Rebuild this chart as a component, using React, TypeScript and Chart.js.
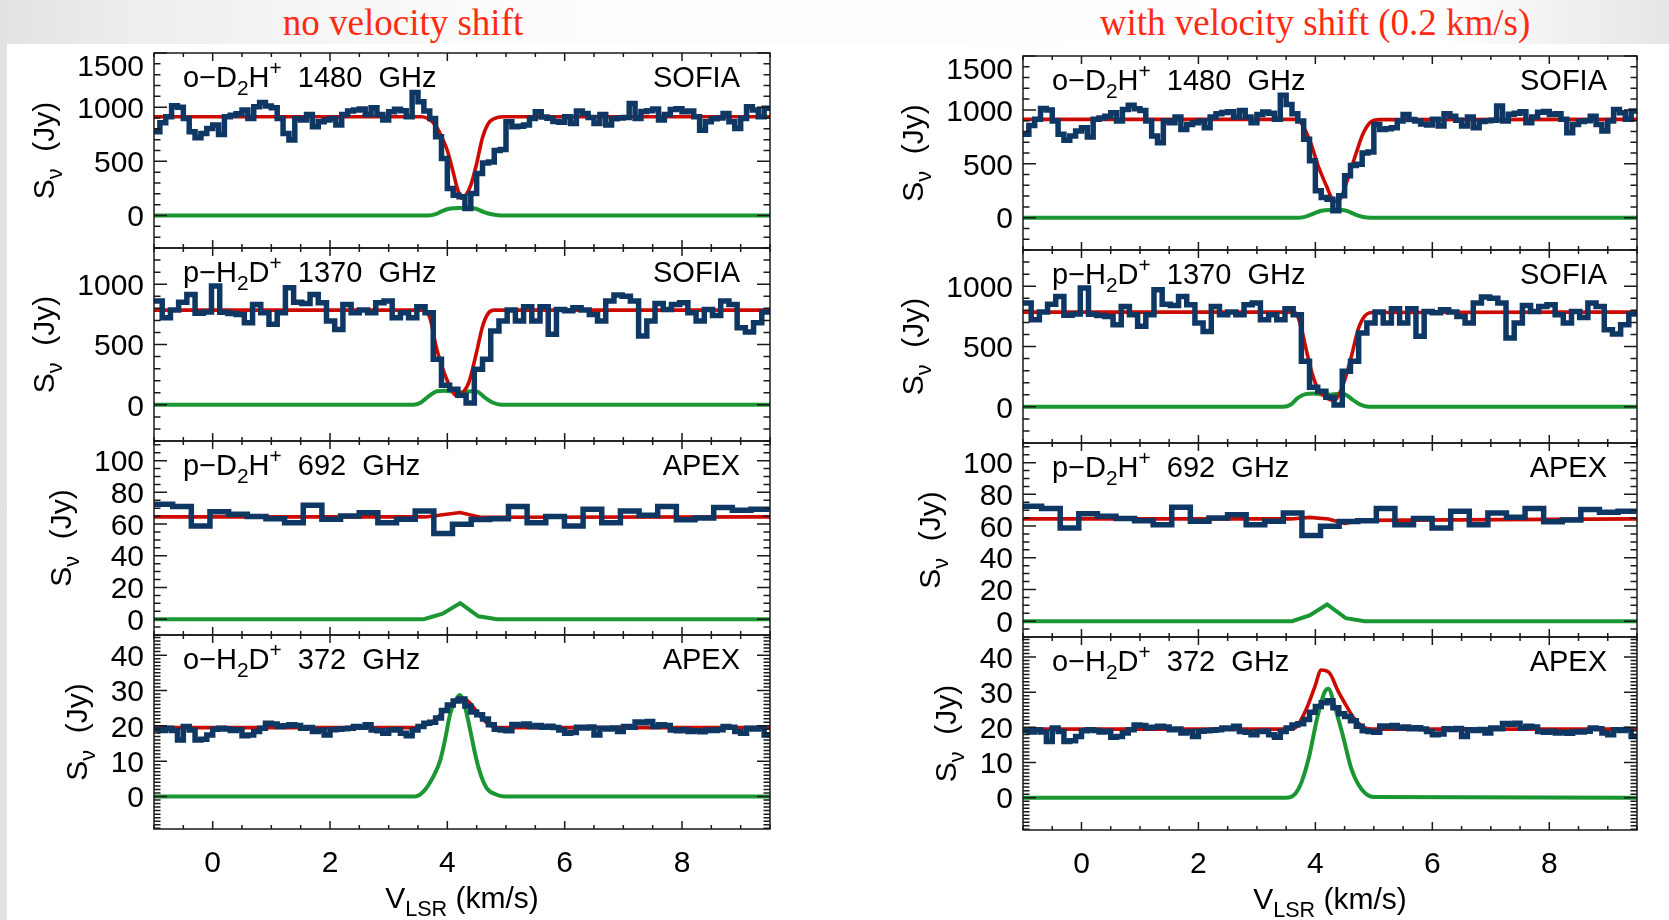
import { useEffect, useRef } from 'react';
import { Chart, registerables } from 'chart.js';

Chart.register(...registerables);

const SANS = '"Liberation Sans", Arial, Helvetica, sans-serif';
const SERIF = '"Liberation Serif", "Times New Roman", serif';

const BLUE = '#0f3764';
const RED = '#cc0a00';
const GREEN = '#1a9632';

// velocity axis (km/s)
const V_MIN = -1;
const V_MAX = 9.5;
const X_MAJOR = [0, 2, 4, 6, 8];
const X_MINOR_STEP = 0.5;

// channel widths (km/s) of the observed spectra
const BIN_D2H_1480 = 0.1;
const BIN_H2D_1370 = 0.14;
const BIN_D2H_692 = 0.318;
const BIN_H2D_372 = 0.1;

// observed spectra (Jy), channel by channel starting at V_MIN
const obsD2H1480 = [
  773, 856, 912, 1013, 1000, 896, 773, 718, 758, 804,
  835, 748, 912, 925, 940, 973, 896, 1004, 1044, 1010,
  995, 896, 758, 696, 896, 881, 933, 819, 865, 881,
  896, 835, 933, 964, 975, 982, 933, 995, 933, 881,
  958, 980, 968, 912, 1136, 1050, 964, 896, 727, 527,
  249, 188, 172, 65, 203, 388, 485, 495, 600, 610,
  865, 819, 825, 835, 896, 958, 910, 898, 868, 860,
  912, 850, 964, 942, 905, 850, 933, 835, 893, 900,
  905, 1035, 896, 960, 968, 982, 881, 933, 978, 986,
  958, 964, 912, 788, 865, 893, 900, 942, 865, 804,
  896, 1004, 973, 912, 989,
];
const obsH2D1370 = [
  860, 722, 785, 851, 915, 760, 770, 984, 768, 758,
  749, 680, 832, 763, 667, 763, 970, 850, 840, 915,
  846, 694, 625, 832, 763, 785, 763, 846, 860, 722,
  763, 722, 813, 763, 377, 163, 129, 80, 14, 295,
  377, 612, 694, 785, 694, 813, 694, 813, 584, 790,
  780, 804, 785, 749, 694, 860, 910, 900, 860, 570,
  694, 840, 790, 832, 846, 763, 694, 790, 741, 860,
  832, 639, 603, 680, 769,
];
const obsD2H692 = [
  72.5, 71.0, 58.8, 67.7, 66.2, 64.7, 63.4, 60.9, 71.9, 63.0,
  65.1, 67.2, 60.9, 63.0, 68.3, 54.1, 59.8, 62.9, 63.4, 71.0,
  60.9, 64.7, 58.8, 69.4, 60.9, 68.3, 65.5, 71.0, 62.7, 63.8,
  70.4, 68.7, 69.4,
];
const obsH2D372 = [
  19.0, 18.7, 19.3, 18.7, 16.0, 19.8, 18.8, 16.0, 16.2, 17.4,
  19.0, 19.3, 19.1, 18.7, 18.9, 17.2, 17.4, 18.4, 19.3, 20.7,
  20.5, 19.8, 20.0, 20.3, 20.1, 19.3, 19.5, 18.4, 18.8, 17.4,
  18.9, 19.0, 19.2, 19.3, 19.8, 19.6, 20.3, 18.8, 18.6, 17.9,
  18.8, 18.9, 17.9, 17.2, 18.8, 19.8, 20.7, 21.0, 22.2, 24.3,
  25.9, 27.0, 27.6, 25.6, 23.9, 23.1, 21.9, 20.3, 19.0, 18.8,
  18.6, 20.4, 20.2, 20.5, 19.8, 20.1, 19.6, 19.9, 19.5, 18.8,
  17.9, 18.1, 19.6, 19.4, 19.7, 17.4, 19.3, 19.1, 19.4, 18.4,
  19.8, 19.6, 21.1, 20.9, 21.2, 19.8, 20.3, 20.1, 18.8, 18.6,
  18.9, 18.4, 18.6, 18.3, 18.8, 18.7, 18.9, 19.8, 19.6, 18.4,
  17.9, 19.3, 19.1, 19.4, 17.4,
];

// model spectra without velocity shift: total (red) and line component (green)
const fitV_D2H1480 = [-1, 3.55, 3.65, 3.8, 3.9, 4.0, 4.1, 4.17, 4.24, 4.32, 4.4, 4.5, 4.6, 4.7, 4.8, 4.95, 9.5];
const fitS_D2H1480 = [912, 912, 900, 830, 730, 600, 400, 250, 160, 190, 280, 480, 720, 850, 895, 912, 912];
const lineV_D2H1480 = [-1, 3.68, 3.8, 3.9, 4.05, 4.2, 4.4, 4.5, 4.62, 4.78, 4.92, 9.5];
const lineS_D2H1480 = [0, 0, 12, 38, 64, 70, 70, 60, 32, 9, 0, 0];

const fitV_H2D1370 = [-1, 3.55, 3.65, 3.72, 3.8, 3.9, 4.0, 4.1, 4.18, 4.28, 4.37, 4.5, 4.6, 4.7, 4.8, 9.5];
const fitS_H2D1370 = [785, 785, 770, 690, 500, 330, 200, 100, 70, 110, 190, 440, 650, 760, 785, 785];
const lineV_H2D1370 = [-1, 3.42, 3.55, 3.69, 3.82, 3.95, 4.1, 4.25, 4.4, 4.5, 4.64, 4.77, 4.92, 9.5];
const lineS_H2D1370 = [0, 0, 19, 74, 112, 116, 110, 105, 112, 110, 60, 19, 0, 0];

const fitV_D2H692 = [-1, 3.62, 4.22, 4.56, 9.5];
const fitS_D2H692 = [64.5, 64.5, 67.3, 64.3, 64.5];
const lineV_D2H692 = [-1, 3.6, 3.92, 4.22, 4.53, 4.85, 9.5];
const lineS_D2H692 = [0, 0, 3.5, 10.1, 1.8, 0, 0];

const fitV_H2D372 = [-1, 3.45, 3.6, 3.76, 3.88, 4.02, 4.16, 4.26, 4.39, 4.5, 4.61, 4.73, 4.86, 9.5];
const fitS_H2D372 = [19.5, 19.5, 20.0, 21.3, 23.1, 25.4, 27.3, 27.8, 26.4, 24.0, 21.8, 20.2, 19.5, 19.5];
const lineV_H2D372 = [-1, 3.45, 3.6, 3.76, 3.88, 3.96, 4.05, 4.13, 4.21, 4.3, 4.39, 4.47, 4.56, 4.67, 4.84, 5.0, 9.5];
const lineS_H2D372 = [0, 0, 1.5, 5.6, 10.3, 16.0, 23.5, 26.8, 28.7, 25.4, 18.8, 12.3, 6.6, 2.4, 0.5, 0, 0];

// model spectra with a 0.2 km/s velocity shift
const shiftFitV_D2H1480 = [-1, 3.7, 3.8, 3.92, 4.05, 4.19, 4.3, 4.38, 4.45, 4.55, 4.68, 4.82, 4.96, 5.1, 9.5];
const shiftFitS_D2H1480 = [912, 912, 840, 693, 477, 293, 165, 150, 200, 354, 570, 785, 893, 910, 912];
const shiftLineV_D2H1480 = [-1, 3.72, 3.85, 3.97, 4.1, 4.25, 4.45, 4.55, 4.67, 4.8, 4.95, 9.5];
const shiftLineS_D2H1480 = [0, 0, 12, 38, 64, 70, 70, 60, 32, 9, 0, 0];

const shiftFitV_H2D1370 = [-1, 3.62, 3.68, 3.76, 3.85, 3.95, 4.05, 4.19, 4.33, 4.43, 4.53, 4.63, 4.73, 4.84, 4.97, 9.5];
const shiftFitS_H2D1370 = [785, 785, 770, 653, 460, 267, 143, 74, 55, 129, 267, 446, 639, 749, 782, 785];
const shiftLineV_H2D1370 = [-1, 3.45, 3.58, 3.7, 3.83, 3.97, 4.1, 4.25, 4.4, 4.5, 4.64, 4.77, 4.92, 9.5];
const shiftLineS_H2D1370 = [0, 0, 19, 74, 105, 110, 104, 100, 108, 104, 58, 18, 0, 0];

const shiftFitV_D2H692 = [-1, 3.58, 3.9, 4.22, 4.5, 4.82, 9.5];
const shiftFitS_D2H692 = [64.5, 64.5, 65.5, 64.5, 61.6, 63.6, 64.5];
const shiftLineV_D2H692 = [-1, 3.6, 3.9, 4.2, 4.52, 4.84, 9.5];
const shiftLineS_D2H692 = [0, 0, 3.6, 10.5, 1.9, 0, 0];

const shiftFitV_H2D372 = [-1, 3.55, 3.66, 3.84, 3.99, 4.1, 4.25, 4.38, 4.52, 4.66, 4.83, 5.0, 9.5];
const shiftFitS_H2D372 = [19.5, 19.5, 19.9, 25.0, 31.5, 36.3, 35.3, 30.6, 26.4, 22.6, 20.0, 19.5, 19.5];
const shiftLineV_H2D372 = [-1, 3.5, 3.65, 3.77, 3.9, 4.03, 4.16, 4.22, 4.34, 4.48, 4.61, 4.79, 5.0, 9.5];
const shiftLineS_H2D372 = [0, 0, 1, 4.7, 12.2, 22.6, 30.1, 31, 25.4, 17, 8.5, 2.4, 0.2, 0];

// y axes: range, labelled ticks and minor tick step
const yRange1480 = [-300, 1500];
const yTicks1480 = [0, 500, 1000, 1500];
const yRange1370 = [-300, 1300];
const yTicks1370 = [0, 500, 1000];
const yRange692 = [-10, 112.4];
const yTicks692 = [0, 20, 40, 60, 80, 100];
const yRange372 = [-9.2, 45.7];
const yTicks372 = [0, 10, 20, 30, 40];

type Part = { t: string; k?: 'sub' | 'sup' };

interface PanelSpec {
  species: Part[];
  freq: string;
  telescope: string;
  yRange: number[];
  yTicks: number[];
  yMinor: number;
  obs: number[];
  bin: number;
  smooth: boolean;
}

interface ModelSet {
  fitV: number[];
  fitS: number[];
  lineV: number[];
  lineS: number[];
}

const PANELS: PanelSpec[] = [
  {
    species: [{ t: 'o\u2212D' }, { t: '2', k: 'sub' }, { t: 'H' }, { t: '+', k: 'sup' }],
    freq: '1480  GHz', telescope: 'SOFIA', yRange: yRange1480, yTicks: yTicks1480, yMinor: 100,
    obs: obsD2H1480, bin: BIN_D2H_1480, smooth: true,
  },
  {
    species: [{ t: 'p\u2212H' }, { t: '2', k: 'sub' }, { t: 'D' }, { t: '+', k: 'sup' }],
    freq: '1370  GHz', telescope: 'SOFIA', yRange: yRange1370, yTicks: yTicks1370, yMinor: 100,
    obs: obsH2D1370, bin: BIN_H2D_1370, smooth: true,
  },
  {
    species: [{ t: 'p\u2212D' }, { t: '2', k: 'sub' }, { t: 'H' }, { t: '+', k: 'sup' }],
    freq: '692  GHz', telescope: 'APEX', yRange: yRange692, yTicks: yTicks692, yMinor: 5,
    obs: obsD2H692, bin: BIN_D2H_692, smooth: false,
  },
  {
    species: [{ t: 'o\u2212H' }, { t: '2', k: 'sub' }, { t: 'D' }, { t: '+', k: 'sup' }],
    freq: '372  GHz', telescope: 'APEX', yRange: yRange372, yTicks: yTicks372, yMinor: 1,
    obs: obsH2D372, bin: BIN_H2D_372, smooth: true,
  },
];

const MODELS_NO_SHIFT: ModelSet[] = [
  { fitV: fitV_D2H1480, fitS: fitS_D2H1480, lineV: lineV_D2H1480, lineS: lineS_D2H1480 },
  { fitV: fitV_H2D1370, fitS: fitS_H2D1370, lineV: lineV_H2D1370, lineS: lineS_H2D1370 },
  { fitV: fitV_D2H692, fitS: fitS_D2H692, lineV: lineV_D2H692, lineS: lineS_D2H692 },
  { fitV: fitV_H2D372, fitS: fitS_H2D372, lineV: lineV_H2D372, lineS: lineS_H2D372 },
];

const MODELS_SHIFT: ModelSet[] = [
  { fitV: shiftFitV_D2H1480, fitS: shiftFitS_D2H1480, lineV: shiftLineV_D2H1480, lineS: shiftLineS_D2H1480 },
  { fitV: shiftFitV_H2D1370, fitS: shiftFitS_H2D1370, lineV: shiftLineV_H2D1370, lineS: shiftLineS_H2D1370 },
  { fitV: shiftFitV_D2H692, fitS: shiftFitS_D2H692, lineV: shiftLineV_D2H692, lineS: shiftLineS_D2H692 },
  { fitV: shiftFitV_H2D372, fitS: shiftFitS_H2D372, lineV: shiftLineV_H2D372, lineS: shiftLineS_H2D372 },
];

interface Column {
  title: string;
  titleX: number;
  plotLeft: number;
  plotRight: number;
  edges: number[];
  models: ModelSet[];
}

const COLUMNS: Column[] = [
  { title: 'no velocity shift', titleX: 403, plotLeft: 154, plotRight: 770, edges: [53, 248, 441, 635, 829], models: MODELS_NO_SHIFT },
  { title: 'with velocity shift (0.2 km/s)', titleX: 1315, plotLeft: 1023, plotRight: 1637, edges: [56, 250, 443, 637, 830], models: MODELS_SHIFT },
];

const PAD_L = 154;
const PAD_R = 28;
const PAD_T = 20;

const TICK_FONT = 30;
const LABEL_FONT = 29;
const SCRIPT_SCALE = 0.72;

// histogram: each channel holds its value from its left edge to the next edge
function channelPoints(values: number[], width: number) {
  const pts = values.map((y, i) => ({ x: V_MIN + i * width, y }));
  pts.push({ x: V_MIN + values.length * width, y: values[values.length - 1] });
  return pts;
}

function curvePoints(v: number[], s: number[]) {
  return v.map((x, i) => ({ x, y: s[i] }));
}

// draws a run of text pieces with sub/superscripts starting at x on baseline y
function drawParts(ctx: CanvasRenderingContext2D, parts: Part[], size: number, x: number, y: number, align: 'left' | 'right' | 'center') {
  const items = parts.map((p) => {
    const s = p.k ? size * SCRIPT_SCALE : size;
    ctx.font = `${s}px ${SANS}`;
    return { ...p, s, w: ctx.measureText(p.t).width };
  });
  const total = items.reduce((acc, it) => acc + it.w, 0);
  let cx = align === 'left' ? x : align === 'right' ? x - total : x - total / 2;
  ctx.textAlign = 'left';
  ctx.textBaseline = 'alphabetic';
  for (const it of items) {
    ctx.font = `${it.s}px ${SANS}`;
    const dy = it.k === 'sub' ? size * 0.27 : it.k === 'sup' ? -size * 0.4 : 0;
    ctx.fillText(it.t, cx, y + dy);
    cx += it.w;
  }
}

const decorPlugin = {
  id: 'decor',
  afterDatasetsDraw(chart: any, _args: any, o: any) {
    const { ctx, chartArea: a } = chart;
    const xs = chart.scales.x;
    const ys = chart.scales.y;
    const spec: PanelSpec = o.spec;
    ctx.save();
    ctx.strokeStyle = '#1a1a1a';
    ctx.fillStyle = '#000';
    ctx.lineWidth = 1.5;

    // x ticks, pointing inward from top and bottom
    for (let i = 0; ; i++) {
      const v = V_MIN + i * X_MINOR_STEP;
      if (v > V_MAX + 1e-9) break;
      const px = xs.getPixelForValue(v);
      const len = X_MAJOR.includes(v) ? 8 : 4;
      ctx.beginPath();
      ctx.moveTo(px, a.bottom);
      ctx.lineTo(px, a.bottom - len);
      ctx.moveTo(px, a.top);
      ctx.lineTo(px, a.top + len);
      ctx.stroke();
    }

    // y ticks, pointing inward from left and right
    const step = spec.yMinor;
    for (let k = Math.ceil(ys.min / step - 1e-9); k * step <= ys.max + 1e-9; k++) {
      const v = k * step;
      const py = ys.getPixelForValue(v);
      const major = spec.yTicks.some((m) => Math.abs(m - v) < 1e-6);
      const len = major ? 13 : 6.5;
      ctx.beginPath();
      ctx.moveTo(a.left, py);
      ctx.lineTo(a.left + len, py);
      ctx.moveTo(a.right, py);
      ctx.lineTo(a.right - len, py);
      ctx.stroke();
    }

    ctx.strokeRect(a.left, a.top, a.right - a.left, a.bottom - a.top);

    // y tick labels
    const capHalf = TICK_FONT * 0.358;
    ctx.font = `${TICK_FONT}px ${SANS}`;
    ctx.textAlign = 'right';
    ctx.textBaseline = 'alphabetic';
    let maxW = 0;
    for (const v of spec.yTicks) {
      const py = Math.max(ys.getPixelForValue(v), a.top + 12.5);
      const txt = String(v);
      maxW = Math.max(maxW, ctx.measureText(txt).width);
      ctx.fillText(txt, a.left - 10, py + capHalf);
    }

    // y axis title, rotated
    const tx = a.left - 10 - maxW - 34;
    const ty = (a.top + a.bottom) / 2;
    ctx.save();
    ctx.translate(tx, ty);
    ctx.rotate(-Math.PI / 2);
    drawParts(ctx, [{ t: 'S' }, { t: '\u03bd', k: 'sub' }, { t: '  (Jy)' }], TICK_FONT, 0, capHalf, 'center');
    ctx.restore();

    // panel annotations
    drawParts(ctx, [...spec.species, { t: '  ' + spec.freq }], LABEL_FONT, a.left + 29, a.top + 34, 'left');
    drawParts(ctx, [{ t: spec.telescope }], LABEL_FONT, a.right - 30, a.top + 34, 'right');

    if (o.bottom) {
      ctx.font = `${TICK_FONT}px ${SANS}`;
      ctx.textAlign = 'center';
      ctx.textBaseline = 'alphabetic';
      for (const v of X_MAJOR) {
        ctx.fillText(String(v), xs.getPixelForValue(v), a.bottom + 43);
      }
      drawParts(ctx, [{ t: 'V' }, { t: 'LSR', k: 'sub' }, { t: ' (km/s)' }], TICK_FONT, (a.left + a.right) / 2, a.bottom + 79, 'center');
    }
    ctx.restore();
  },
};

function SpectrumPanel({ spec, model, col, row }: { spec: PanelSpec; model: ModelSet; col: Column; row: number }) {
  const ref = useRef<HTMLCanvasElement>(null);
  const isBottom = row === 3;
  const top = col.edges[row];
  const bottom = col.edges[row + 1];
  const plotW = col.plotRight - col.plotLeft;
  const padB = isBottom ? 95 : 20;
  const w = PAD_L + plotW + PAD_R;
  const h = PAD_T + (bottom - top) + padB;

  useEffect(() => {
    const chart = new Chart(ref.current as HTMLCanvasElement, {
      type: 'line',
      data: {
        datasets: [
          {
            data: channelPoints(spec.obs, spec.bin),
            stepped: 'before',
            borderColor: BLUE,
            borderWidth: 5.5,
            borderJoinStyle: 'miter',
            pointRadius: 0,
            fill: false,
            order: 0,
          },
          {
            data: curvePoints(model.fitV, model.fitS),
            borderColor: RED,
            borderWidth: 3.6,
            pointRadius: 0,
            fill: false,
            tension: 0,
            cubicInterpolationMode: spec.smooth ? 'monotone' : 'default',
            order: 1,
          },
          {
            data: curvePoints(model.lineV, model.lineS),
            borderColor: GREEN,
            borderWidth: 4,
            pointRadius: 0,
            fill: false,
            tension: 0,
            cubicInterpolationMode: spec.smooth ? 'monotone' : 'default',
            order: 2,
          },
        ],
      } as any,
      options: {
        responsive: false,
        maintainAspectRatio: false,
        animation: false,
        events: [],
        layout: { padding: { left: PAD_L, right: PAD_R, top: PAD_T, bottom: padB } },
        scales: {
          x: { type: 'linear', min: V_MIN, max: V_MAX, display: false },
          y: { type: 'linear', min: spec.yRange[0], max: spec.yRange[1], display: false },
        },
        plugins: {
          legend: { display: false },
          tooltip: { enabled: false },
          decor: { spec, bottom: isBottom },
        } as any,
      },
      plugins: [decorPlugin],
    });
    return () => chart.destroy();
  }, []);

  return (
    <canvas
      ref={ref}
      width={w}
      height={h}
      style={{ position: 'absolute', left: col.plotLeft - PAD_L, top: top - PAD_T, width: w, height: h }}
    />
  );
}

export default function App() {
  return (
    <div
      style={{
        position: 'fixed',
        left: 0,
        top: 0,
        width: 1669,
        height: 920,
        overflow: 'hidden',
        background: 'linear-gradient(90deg, #e2e2e2 0%, #eeeeee 8%, #fcfcfc 30%, #ffffff 86%, #f0f0f0 94%, #e6e6e6 100%)',
      }}
    >
      <div style={{ position: 'absolute', left: 7, top: 44, right: 0, bottom: 0, background: '#ffffff' }} />
      {COLUMNS.map((col) => (
        <div
          key={col.title}
          style={{
            position: 'absolute',
            left: col.titleX,
            top: 4,
            transform: 'translateX(-50%)',
            whiteSpace: 'nowrap',
            font: `37px ${SERIF}`,
            lineHeight: '37px',
            color: '#ff2a12',
          }}
        >
          {col.title}
        </div>
      ))}
      {COLUMNS.map((col) =>
        PANELS.map((spec, row) => (
          <SpectrumPanel key={col.title + row} spec={spec} model={col.models[row]} col={col} row={row} />
        )),
      )}
    </div>
  );
}
